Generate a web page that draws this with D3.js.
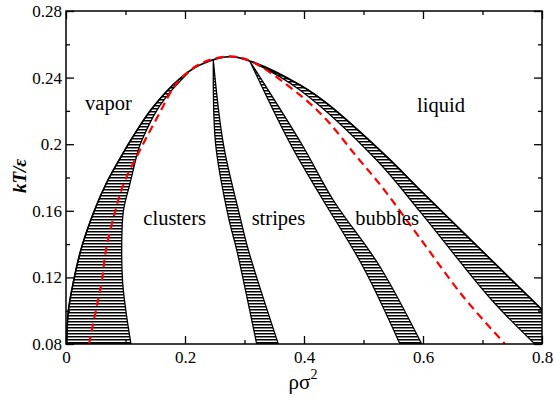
<!DOCTYPE html>
<html>
<head>
<meta charset="utf-8">
<script src="https://cdn.jsdelivr.net/npm/d3@7"></script>
<style>
  body { margin: 0; background: #fff; }
  svg { display: block; }
  .tick text { font-family: "Liberation Serif", "Times New Roman", serif; font-size: 17px; fill: #000; }
  .tick line, .domain { stroke: #000; stroke-width: 1.3; }
  .region { font-family: "Liberation Serif", "Times New Roman", serif; font-size: 20.5px; }
</style>
</head>
<body>
<script>
// phase boundaries, [rho*sigma^2, kT/eps]
var envelope = [[0.001,0.080],[0.004,0.100],[0.012,0.1165],[0.025,0.1365],[0.047,0.1595],[0.068,0.1767],
  [0.099,0.1965],[0.109,0.2025],[0.145,0.2217],[0.192,0.2396],[0.225,0.2476],[0.2756,0.2526],
  [0.312,0.2496],[0.393,0.2356],[0.438,0.2246],[0.539,0.1925],[0.595,0.1725],[0.780,0.1076],[0.860,0.0795]];

// vapor / clusters band
var clusterOuter = [[0.001,0.080],[0.004,0.100],[0.012,0.1165],[0.025,0.1365],[0.047,0.1595],[0.068,0.1767],
  [0.099,0.1965],[0.109,0.2025],[0.145,0.2217],[0.192,0.2396],[0.205,0.2428]];
var clusterInner = [[0.1092,0.080],[0.102,0.0964],[0.0953,0.1164],[0.0936,0.1365],[0.0963,0.1595],
  [0.1076,0.1765],[0.1215,0.1965],[0.1277,0.2025],[0.1529,0.2205],[0.1782,0.2326],[0.205,0.2428]];

// clusters / stripes band
var stripeLeft = [[0.2476,0.2504],[0.2515,0.2000],[0.2728,0.1565],[0.2869,0.1365],[0.3205,0.080]];
var stripeRight = [[0.2476,0.2504],[0.2645,0.2000],[0.2924,0.1565],[0.3064,0.1365],[0.3568,0.080]];

// stripes / bubbles band
var bubbleLeft = [[0.309,0.2498],[0.378,0.1995],[0.432,0.1665],[0.4992,0.1264],[0.5613,0.080]];
var bubbleRight = [[0.309,0.2498],[0.397,0.1995],[0.449,0.1665],[0.5277,0.1264],[0.5978,0.080]];

// bubbles / liquid band
var liquidOuter = [[0.312,0.2496],[0.393,0.2356],[0.438,0.2246],[0.539,0.1925],[0.595,0.1725],[0.780,0.1076],[0.860,0.0795]];
var liquidInner = [[0.312,0.2496],[0.393,0.2326],[0.522,0.1905],[0.595,0.1595],[0.7155,0.1064],[0.788,0.080]];

// mean-field curve (dashed)
var spinodal = [[0.0387,0.080],[0.0504,0.1004],[0.0605,0.1184],[0.0672,0.1365],[0.0824,0.1593],[0.0975,0.1767],
  [0.1244,0.1965],[0.1546,0.2169],[0.1866,0.2368],[0.2252,0.2482],[0.2756,0.2527],[0.3121,0.2496],
  [0.3933,0.2295],[0.4382,0.2145],[0.4886,0.1925],[0.5306,0.1745],[0.595,0.1435],[0.6677,0.1084],[0.7378,0.080]];

var xMajor = [0, 0.2, 0.4, 0.6, 0.8];
var xMinor = [0.1, 0.3, 0.5, 0.7];
var yMajor = [0.08, 0.12, 0.16, 0.2, 0.24, 0.28];
var yMinor = [0.10, 0.14, 0.18, 0.22, 0.26];

var regionLabels = [
  {text: "vapor", rho: 0.032, T: 0.2205},
  {text: "liquid", rho: 0.590, T: 0.2195},
  {text: "clusters", rho: 0.130, T: 0.1513},
  {text: "stripes", rho: 0.312, T: 0.1513},
  {text: "bubbles", rho: 0.486, T: 0.1513}
];

var w = 554, h = 401;
var margin = {top: 11, right: 12, bottom: 57, left: 66};

var svg = d3.select("body").append("svg").attr("width", w).attr("height", h);

var xScale = d3.scaleLinear().domain([0, 0.8]).range([margin.left, w - margin.right]);
var yScale = d3.scaleLinear().domain([0.08, 0.28]).range([h - margin.bottom, margin.top]);

var defs = svg.append("defs");
defs.append("clipPath").attr("id", "plotclip")
  .append("rect")
  .attr("x", margin.left).attr("y", margin.top)
  .attr("width", w - margin.left - margin.right)
  .attr("height", h - margin.top - margin.bottom);

var hatch = defs.append("pattern").attr("id", "hatch")
  .attr("patternUnits", "userSpaceOnUse")
  .attr("width", 8).attr("height", 3);
hatch.append("rect").attr("width", 8).attr("height", 3).attr("fill", "#fff");
hatch.append("line").attr("x1", 0).attr("x2", 8).attr("y1", 0.75).attr("y2", 0.75)
  .attr("stroke", "#000").attr("stroke-width", 1.5);

var line = d3.line()
  .x(function(d) { return xScale(d[0]); })
  .y(function(d) { return yScale(d[1]); })
  .curve(d3.curveCatmullRom.alpha(0.5));

// closed band between two edges
function bandPath(a, b) {
  var back = line(b.slice().reverse());
  return line(a) + "L" + back.slice(1) + "Z";
}

var plot = svg.append("g").attr("clip-path", "url(#plotclip)");

var bands = [[clusterOuter, clusterInner], [stripeLeft, stripeRight],
             [bubbleLeft, bubbleRight], [liquidOuter, liquidInner]];

plot.selectAll("path.band")
  .data(bands)
  .enter()
  .append("path")
  .attr("class", "band")
  .attr("d", function(d) { return bandPath(d[0], d[1]); })
  .attr("fill", "url(#hatch)")
  .attr("stroke", "#000")
  .attr("stroke-width", 1.3)
  .attr("stroke-linejoin", "round");

plot.append("path")
  .attr("d", line(envelope))
  .attr("fill", "none")
  .attr("stroke", "#000")
  .attr("stroke-width", 1.6);

plot.append("path")
  .attr("d", line(spinodal))
  .attr("fill", "none")
  .attr("stroke", "#ff0000")
  .attr("stroke-width", 2.2)
  .attr("stroke-dasharray", "8,5");

//axes, ticks pointing inward on all four sides
var x0 = h - margin.bottom, y0 = margin.left;

svg.append("g").attr("transform", "translate(0," + x0 + ")")
  .call(d3.axisBottom(xScale).tickValues(xMajor).tickSizeInner(-8).tickSizeOuter(0).tickPadding(7)
    .tickFormat(function(d) { return d === 0 ? "0" : d3.format(".1f")(d); }));
svg.append("g").attr("transform", "translate(0," + x0 + ")")
  .call(d3.axisBottom(xScale).tickValues(xMinor).tickSizeInner(-4).tickSizeOuter(0).tickFormat(""));
svg.append("g").attr("transform", "translate(0," + margin.top + ")")
  .call(d3.axisTop(xScale).tickValues(xMajor).tickSizeInner(-8).tickSizeOuter(0).tickFormat(""));
svg.append("g").attr("transform", "translate(0," + margin.top + ")")
  .call(d3.axisTop(xScale).tickValues(xMinor).tickSizeInner(-4).tickSizeOuter(0).tickFormat(""));

svg.append("g").attr("transform", "translate(" + y0 + ",0)")
  .call(d3.axisLeft(yScale).tickValues(yMajor).tickSizeInner(-8).tickSizeOuter(0).tickPadding(4)
    .tickFormat(function(d) { return d3.format("")(+d.toFixed(2)); }));
svg.append("g").attr("transform", "translate(" + y0 + ",0)")
  .call(d3.axisLeft(yScale).tickValues(yMinor).tickSizeInner(-4).tickSizeOuter(0).tickFormat(""));
svg.append("g").attr("transform", "translate(" + (w - margin.right) + ",0)")
  .call(d3.axisRight(yScale).tickValues(yMajor).tickSizeInner(-8).tickSizeOuter(0).tickFormat(""));
svg.append("g").attr("transform", "translate(" + (w - margin.right) + ",0)")
  .call(d3.axisRight(yScale).tickValues(yMinor).tickSizeInner(-4).tickSizeOuter(0).tickFormat(""));

svg.selectAll(".domain").remove();

svg.append("rect")
  .attr("x", margin.left).attr("y", margin.top)
  .attr("width", w - margin.left - margin.right)
  .attr("height", h - margin.top - margin.bottom)
  .attr("fill", "none").attr("stroke", "#000").attr("stroke-width", 1.5);

svg.selectAll("text.region")
  .data(regionLabels)
  .enter()
  .append("text")
  .attr("class", "region")
  .attr("x", function(d) { return xScale(d.rho); })
  .attr("y", function(d) { return yScale(d.T); })
  .text(function(d) { return d.text; });

//axis titles
var xt = svg.append("text")
  .attr("x", 303).attr("y", 389)
  .attr("text-anchor", "middle")
  .style("font-family", "'Liberation Serif', serif")
  .style("font-size", "21px");
xt.append("tspan").text("ρσ");
xt.append("tspan").attr("dy", -10).style("font-size", "14px").text("2");

svg.append("text")
  .attr("transform", "translate(26,176) rotate(-90)")
  .attr("text-anchor", "middle")
  .style("font-family", "'Liberation Serif', serif")
  .style("font-size", "19px")
  .style("font-weight", "bold")
  .style("font-style", "italic")
  .text("kT/ε");
</script>
</body>
</html>
